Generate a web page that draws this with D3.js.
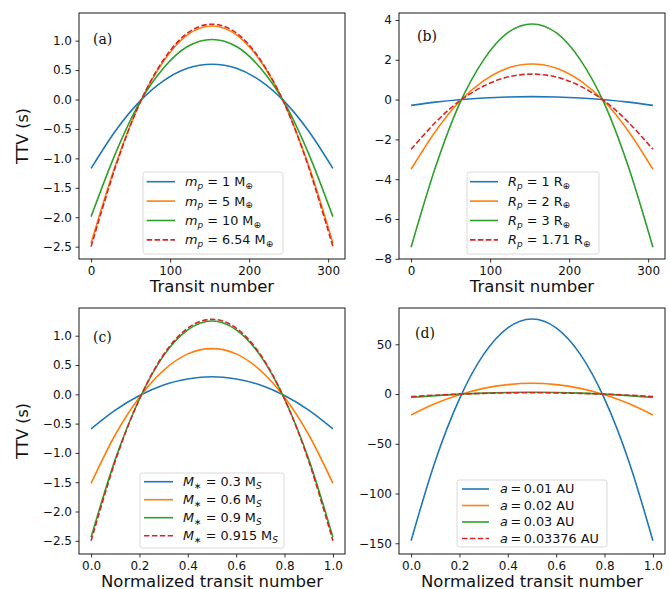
<!DOCTYPE html>
<html>
<head>
<meta charset="utf-8">
<script src="https://cdn.jsdelivr.net/npm/d3@7"></script>
<style>
  body { margin: 0; background: #fff; }
  text { fill: #111; }
</style>
</head>
<body>
<svg id="chart" width="670" height="589" font-family="DejaVu Sans, sans-serif"></svg>
<script>
// sample positions
var normX = [0, 0.1, 0.2, 0.3, 0.4, 0.5, 0.6, 0.7, 0.8, 0.9, 1.0];
var transitX = [0, 31, 61, 92, 122, 153, 184, 214, 245, 275, 306];

// (a) planet mass
var a1  = [-1.17, -0.53, -0.04, 0.32, 0.53, 0.60, 0.53, 0.32, -0.04, -0.53, -1.17];
var a5  = [-2.44, -1.11, -0.08, 0.66, 1.10, 1.25, 1.10, 0.66, -0.08, -1.11, -2.44];
var a10 = [-1.99, -0.91, -0.06, 0.54, 0.90, 1.02, 0.90, 0.54, -0.06, -0.91, -1.99];
var aFit = [-2.50, -1.14, -0.08, 0.68, 1.13, 1.28, 1.13, 0.68, -0.08, -1.14, -2.50];

// (b) planet radius
var b1 = [-0.29, -0.13, -0.01, 0.08, 0.13, 0.15, 0.13, 0.08, -0.01, -0.13, -0.29];
var b2 = [-3.50, -1.59, -0.11, 0.95, 1.58, 1.79, 1.58, 0.95, -0.11, -1.59, -3.50];
var b3 = [-7.42, -3.38, -0.24, 2.01, 3.35, 3.80, 3.35, 2.01, -0.24, -3.38, -7.42];
var bFit = [-2.50, -1.14, -0.08, 0.68, 1.13, 1.28, 1.13, 0.68, -0.08, -1.14, -2.50];

// (c) stellar mass
var c03 = [-0.59, -0.27, -0.02, 0.16, 0.26, 0.30, 0.26, 0.16, -0.02, -0.27, -0.59];
var c06 = [-1.52, -0.69, -0.05, 0.41, 0.69, 0.78, 0.69, 0.41, -0.05, -0.69, -1.52];
var c09 = [-2.44, -1.11, -0.08, 0.66, 1.10, 1.25, 1.10, 0.66, -0.08, -1.11, -2.44];
var cFit = [-2.50, -1.14, -0.08, 0.68, 1.13, 1.28, 1.13, 0.68, -0.08, -1.14, -2.50];

// (d) semi-major axis
var d01 = [-147.5, -67.2, -4.8, 39.9, 66.6, 75.5, 66.6, 39.9, -4.8, -67.2, -147.5];
var d02 = [-21.1, -9.6, -0.7, 5.7, 9.5, 10.8, 9.5, 5.7, -0.7, -9.6, -21.1];
var d03 = [-3.5, -1.6, -0.1, 0.95, 1.59, 1.8, 1.59, 0.95, -0.1, -1.6, -3.5];
var dFit = [-2.5, -1.14, -0.08, 0.68, 1.13, 1.28, 1.13, 0.68, -0.08, -1.14, -2.5];

var ticksTransit = [0, 100, 200, 300];
var ticksNorm = [0, 0.2, 0.4, 0.6, 0.8, 1.0];
var ticksTTVsmall = [-2.5, -2.0, -1.5, -1.0, -0.5, 0.0, 0.5, 1.0];
var ticksTTVb = [-8, -6, -4, -2, 0, 2, 4];
var ticksTTVd = [-150, -100, -50, 0, 50];

// legend labels: [text, style] with i = italic, s = subscript
var legA = [
  [["m", "i"], ["p", "si"], [" = 1 M"], ["\u2295", "s"]],
  [["m", "i"], ["p", "si"], [" = 5 M"], ["\u2295", "s"]],
  [["m", "i"], ["p", "si"], [" = 10 M"], ["\u2295", "s"]],
  [["m", "i"], ["p", "si"], [" = 6.54 M"], ["\u2295", "s"]]
];
var legB = [
  [["R", "i"], ["p", "si"], [" = 1 R"], ["\u2295", "s"]],
  [["R", "i"], ["p", "si"], [" = 2 R"], ["\u2295", "s"]],
  [["R", "i"], ["p", "si"], [" = 3 R"], ["\u2295", "s"]],
  [["R", "i"], ["p", "si"], [" = 1.71 R"], ["\u2295", "s"]]
];
var legC = [
  [["M", "i"], ["\u2217", "s"], [" = 0.3 M"], ["S", "si"]],
  [["M", "i"], ["\u2217", "s"], [" = 0.6 M"], ["S", "si"]],
  [["M", "i"], ["\u2217", "s"], [" = 0.9 M"], ["S", "si"]],
  [["M", "i"], ["\u2217", "s"], [" = 0.915 M"], ["S", "si"]]
];
var legD = [
  [["a", "i"], ["\u2009=\u20090.01 AU"]],
  [["a", "i"], ["\u2009=\u20090.02 AU"]],
  [["a", "i"], ["\u2009=\u20090.03 AU"]],
  [["a", "i"], ["\u2009=\u20090.03376 AU"]]
];

var colors = ["#1f77b4", "#ff7f0e", "#2ca02c", "#d62728"];

var panels = [
  {tag: "(a)", x0: 79, x1: 345, y0: 13, y1: 259, xs: transitX, xMax: 306, xTicks: ticksTransit, xFmt: d3.format("d"),
   yDom: [-2.71, 1.47], yTicks: ticksTTVsmall, yFmt: d3.format(".1f"), series: [a1, a5, a10, aFit], leg: legA,
   xLabel: "Transit number", yLabel: "TTV (s)", tagPos: [93, 44], box: [143, 172, 140, 82], row0: 9.7, rowStep: 19.4, hx: [146.7, 175], tx: 185},
  {tag: "(b)", x0: 399, x1: 665, y0: 13, y1: 259, xs: transitX, xMax: 306, xTicks: ticksTransit, xFmt: d3.format("d"),
   yDom: [-8.01, 4.35], yTicks: ticksTTVb, yFmt: d3.format("d"), series: [b1, b2, b3, bFit], leg: legB,
   xLabel: "Transit number", yLabel: null, tagPos: [417, 41], box: [467, 172, 132, 82], row0: 9.7, rowStep: 19.4, hx: [470, 498], tx: 508},
  {tag: "(c)", x0: 79, x1: 345, y0: 308, y1: 554, xs: normX, xMax: 1, xTicks: ticksNorm, xFmt: d3.format(".1f"),
   yDom: [-2.725, 1.473], yTicks: ticksTTVsmall, yFmt: d3.format(".1f"), series: [c03, c06, c09, cFit], leg: legC,
   xLabel: "Normalized transit number", yLabel: "TTV (s)", tagPos: [93, 342], box: [140, 473, 144, 75], row0: 8.7, rowStep: 18, hx: [144, 173], tx: 183},
  {tag: "(d)", x0: 399, x1: 665, y0: 308, y1: 554, xs: normX, xMax: 1, xTicks: ticksNorm, xFmt: d3.format(".1f"),
   yDom: [-160.8, 86.5], yTicks: ticksTTVd, yFmt: d3.format("d"), series: [d01, d02, d03, dFit], leg: legD,
   xLabel: "Normalized transit number", yLabel: null, tagPos: [415, 338], box: [457, 480, 150, 67], row0: 9, rowStep: 16.5, hx: [462, 489], tx: 500}
];

var svg = d3.select("#chart");

function richText(sel, segs, size) {
  var shifted = false;
  segs.forEach(function (s) {
    var style = s[1] || "";
    var t = sel.append("tspan").text(s[0]);
    if (style.indexOf("i") >= 0) t.attr("font-style", "italic");
    if (style.indexOf("s") >= 0) {
      t.attr("font-size", size * 0.7);
      if (!shifted) { t.attr("dy", size * 0.22); shifted = true; }
    } else {
      if (shifted) { t.attr("dy", -size * 0.22); shifted = false; }
    }
  });
}

panels.forEach(function (p) {
  var x = d3.scaleLinear().domain([-0.05 * p.xMax, 1.05 * p.xMax]).range([p.x0, p.x1]);
  var y = d3.scaleLinear().domain(p.yDom).range([p.y1, p.y0]);
  var g = svg.append("g");

  var line = d3.line()
    .x(function (d, i) { return x(p.xs[i]); })
    .y(function (d) { return y(d); })
    .curve(d3.curveCardinal.tension(0));

  p.series.forEach(function (s, k) {
    g.append("path")
      .attr("d", line(s))
      .attr("fill", "none")
      .attr("stroke", colors[k])
      .attr("stroke-width", 1.6)
      .attr("stroke-dasharray", k === 3 ? "5.5,2.4" : null);
  });

  // axes
  var xAxis = g.append("g").attr("transform", "translate(0," + p.y1 + ")")
    .call(d3.axisBottom(x).tickValues(p.xTicks).tickFormat(p.xFmt).tickSize(3.5).tickPadding(3.5));
  var yAxis = g.append("g").attr("transform", "translate(" + p.x0 + ",0)")
    .call(d3.axisLeft(y).tickValues(p.yTicks).tickFormat(p.yFmt).tickSize(3.5).tickPadding(3.5));
  [xAxis, yAxis].forEach(function (a) {
    a.select(".domain").remove();
    a.selectAll("line").attr("stroke", "#000").attr("stroke-width", 0.8);
    a.selectAll("text").attr("font-size", 12).attr("font-family", "DejaVu Sans").attr("fill", "#111");
  });

  g.append("rect")
    .attr("x", p.x0).attr("y", p.y0)
    .attr("width", p.x1 - p.x0).attr("height", p.y1 - p.y0)
    .attr("fill", "none").attr("stroke", "#000").attr("stroke-width", 0.9);

  g.append("text")
    .attr("x", p.tagPos[0]).attr("y", p.tagPos[1])
    .attr("font-family", "DejaVu Serif, serif").attr("font-size", 14)
    .text(p.tag);

  g.append("text")
    .attr("x", (p.x0 + p.x1) / 2).attr("y", p.y1 + 32.5)
    .attr("text-anchor", "middle").attr("font-size", 16.5)
    .text(p.xLabel);

  if (p.yLabel) {
    g.append("text")
      .attr("transform", "translate(28," + ((p.y0 + p.y1) / 2) + ") rotate(-90)")
      .attr("text-anchor", "middle").attr("font-size", 16)
      .text(p.yLabel);
  }

  // legend
  var b = p.box;
  g.append("rect")
    .attr("x", b[0]).attr("y", b[1]).attr("width", b[2]).attr("height", b[3])
    .attr("rx", 2.5)
    .attr("fill", "#fff").attr("fill-opacity", 0.8)
    .attr("stroke", "#d6d6d6").attr("stroke-width", 0.9);

  p.leg.forEach(function (segs, k) {
    var ry = b[1] + p.row0 + k * p.rowStep;
    g.append("line")
      .attr("x1", p.hx[0]).attr("x2", p.hx[1]).attr("y1", ry).attr("y2", ry)
      .attr("stroke", colors[k]).attr("stroke-width", 1.6)
      .attr("stroke-dasharray", k === 3 ? "5.5,2.4" : null);
    var t = g.append("text").attr("x", p.tx).attr("y", ry + 4.4).attr("font-size", 12.8);
    richText(t, segs, 12.8);
  });
});
</script>
</body>
</html>
